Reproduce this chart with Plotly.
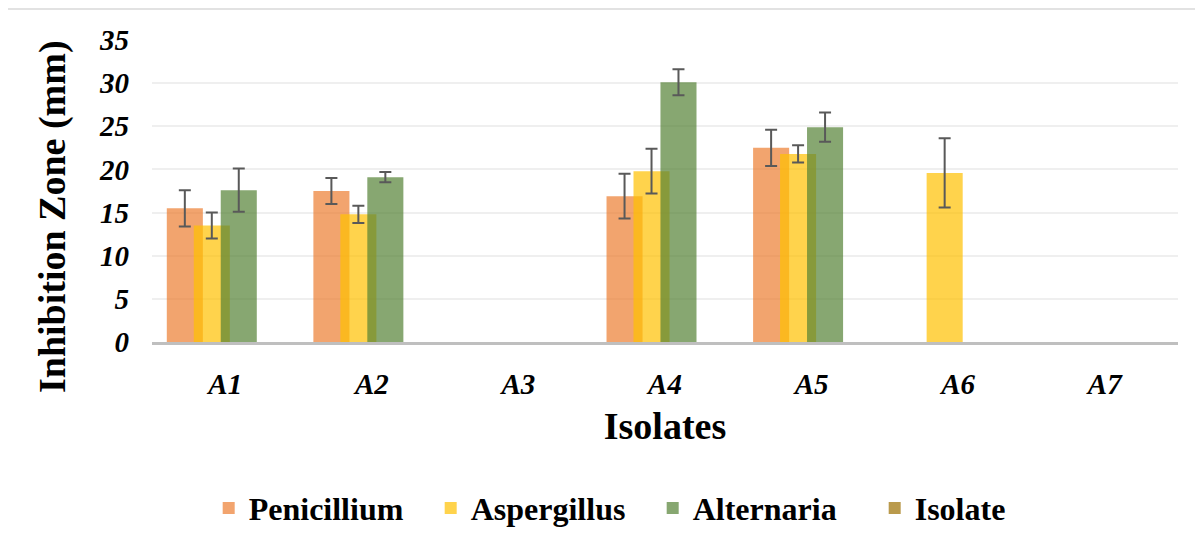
import plotly.graph_objects as go

isolates = ["A1", "A2", "A3", "A4", "A5", "A6", "A7"]
penicillium = [15.5, 17.5, 0, 16.9, 22.5, 0, 0]
penicillium_err = [2.1, 1.5, 0, 2.6, 2.1, 0, 0]
aspergillus = [13.5, 14.8, 0, 19.8, 21.8, 19.6, 0]
aspergillus_err = [1.5, 1.0, 0, 2.6, 1.0, 4.0, 0]
alternaria = [17.6, 19.1, 0, 30.1, 24.9, 0, 0]
alternaria_err = [2.5, 0.6, 0, 1.5, 1.7, 0, 0]
isolate = [0, 0, 0, 0, 0, 0, 0]

FONT = "Liberation Serif"
BW = 0.246
STEP = 0.184
OFF0 = -0.399

series = [
    ("Penicillium", penicillium, penicillium_err, "rgba(237,125,49,0.7)"),
    ("Aspergillus", aspergillus, aspergillus_err, "rgba(255,192,0,0.7)"),
    ("Alternaria", alternaria, alternaria_err, "rgba(84,130,53,0.7)"),
    ("Isolate", isolate, None, "rgba(156,111,0,0.7)"),
]

fig = go.Figure()
for i, (name, vals, err, col) in enumerate(series):
    yv = [v if v > 0 else None for v in vals]
    kw = {}
    if err is not None:
        kw["error_y"] = dict(type="data", array=err, visible=True,
                             color="#595959", thickness=2, width=6)
    fig.add_trace(go.Bar(
        name=name, x=isolates, y=yv, width=BW, offset=OFF0 + i * STEP,
        marker=dict(color=col, line=dict(width=0)), **kw))

# page body has an 8px margin: shift plot area accordingly
fig.update_layout(
    barmode="overlay",
    width=1203, height=545,
    margin=dict(l=144, r=33, t=32, b=211),
    paper_bgcolor="white", plot_bgcolor="white",
    font=dict(family=FONT, color="black"),
    showlegend=True,
    legend=dict(orientation="h", x=0.488, xanchor="center", y=-0.55, yanchor="middle",
                font=dict(family=FONT, size=32, weight="bold", color="black"),
                entrywidth=177, entrywidthmode="pixels",
                itemsizing="constant", traceorder="normal"),
    shapes=[dict(type="rect", xref="paper", yref="paper",
                 x0=-0.1413, x1=1.04, y0=-0.75, y1=1.103,
                 line=dict(color="#D9D9D9", width=1.5), layer="below")],
    annotations=[dict(text="Inhibition Zone (mm)", xref="paper", yref="paper",
                      x=-0.0975, y=0.417, xanchor="center", yanchor="middle",
                      textangle=-90, showarrow=False,
                      font=dict(family=FONT, size=38, weight="bold", color="black"))],
)
fig.update_xaxes(
    type="category",
    showline=True, linecolor="#BFBFBF", linewidth=3,
    ticks="", showgrid=False,
    tickfont=dict(family=FONT, size=29, weight="bold", style="italic", color="black"),
    ticklabelstandoff=14,
    title=dict(text="Isolates", font=dict(family=FONT, size=38, weight="bold", color="black"),
               standoff=14),
)
fig.update_yaxes(
    range=[0, 35], dtick=5, tick0=0,
    showgrid=True, gridcolor="#EFEFEF", gridwidth=1.5,
    zeroline=False, showline=False, ticks="",
    tickfont=dict(family=FONT, size=29, weight="bold", style="italic", color="black"),
    ticklabelstandoff=22,
)

fig.write_html("out.html")
